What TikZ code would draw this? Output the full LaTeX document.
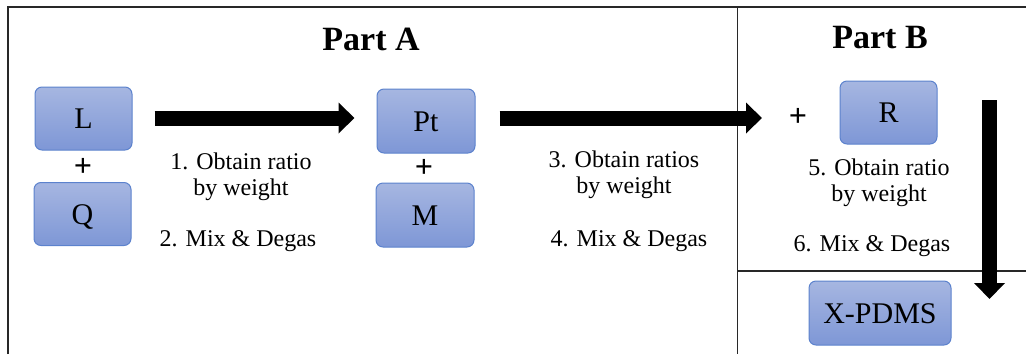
\documentclass[tikz,border=0pt]{standalone}
\usepackage{fontspec}
\setmainfont{Liberation Serif}
\usetikzlibrary{arrows.meta,calc}

\definecolor{boxtop}{RGB}{166,182,225}
\definecolor{boxbot}{RGB}{126,151,214}
\definecolor{boxline}{RGB}{92,130,205}
\definecolor{frameline}{RGB}{40,40,40}

\tikzset{
  chem/.style={draw=boxline, line width=1pt, rounded corners=7pt,
    top color=boxtop, bottom color=boxbot,
    minimum width=97pt, minimum height=63pt, inner sep=0pt,
    font=\fontsize{30}{32}\selectfont, text height=20pt, text depth=0pt},
  title/.style={font=\fontsize{34}{36}\selectfont\bfseries, anchor=base, inner sep=0pt},
  stepnote/.style={font=\fontsize{24}{26}\selectfont, align=center, inner sep=0pt},
  mixnote/.style={font=\fontsize{24}{26}\selectfont, anchor=base, inner sep=0pt},
  plussign/.style={font=\fontsize{32}{32}\selectfont\bfseries, inner sep=0pt},
  blockarrow/.style={line width=15pt, -{Triangle[width=30pt,length=16pt]}},
  frame/.style={draw=frameline, line width=1.3pt}
}

\begin{document}
\begin{tikzpicture}[x=1pt, y=-1pt]
\useasboundingbox (0,0) rectangle (1026,354);

% panel frame and dividers
\draw[frame] (8,354) -- (8,7) -- (1026,7);
\draw[frame] (737.5,7) -- (737.5,354);
\draw[frame] (737.5,271) -- (1026,271);

% titles
\node[title] (partA) at (371,50) {Part A};
\node[title] (partB) at (880,48) {Part B};

% components
\node[chem] (L)  at (83.5,118.5) {L};
\node[chem] (Q)  at (82.5,214)   {Q};
\node[chem, minimum width=98pt, minimum height=64pt] (Pt) at (426,121) {Pt};
\node[chem, minimum width=98pt, minimum height=64pt] (M)  at (425,215) {M};
\node[chem] (R)  at (888.5,112.5) {R};
\node[chem, minimum width=142pt, minimum height=64pt] (X) at (880,313) {X-PDMS};

\node[plussign] (plus1) at (83,167)  {+};
\node[plussign] (plus2) at (424,168) {+};
\node[plussign] (plus3) at (798,117) {+};

% step notes
\node[stepnote] (s1) at (241,176.5) {1. Obtain ratio\\by weight};
\node[mixnote]  (s2) at (238,246)   {2. Mix \& Degas};
\node[stepnote] (s3) at (624,175)   {3. Obtain ratios\\by weight};
\node[mixnote]  (s4) at (629,246)   {4. Mix \& Degas};
\node[stepnote] (s5) at (879,182.5) {5. Obtain ratio\\by weight};
\node[mixnote]  (s6) at (872,251)   {6. Mix \& Degas};

% process arrows
\coordinate (join) at (762,118);
\coordinate (dtop) at (989.5,100);
\coordinate (dend) at (989.5,299);
\draw[blockarrow, shorten <=22pt, shorten >=22pt] (L.east |- join) -- (Pt.west |- join);
\draw[blockarrow, shorten <=24pt] (Pt.east |- join) -- (join);
\draw[blockarrow] (dtop) -- (dend);
\end{tikzpicture}
\end{document}
